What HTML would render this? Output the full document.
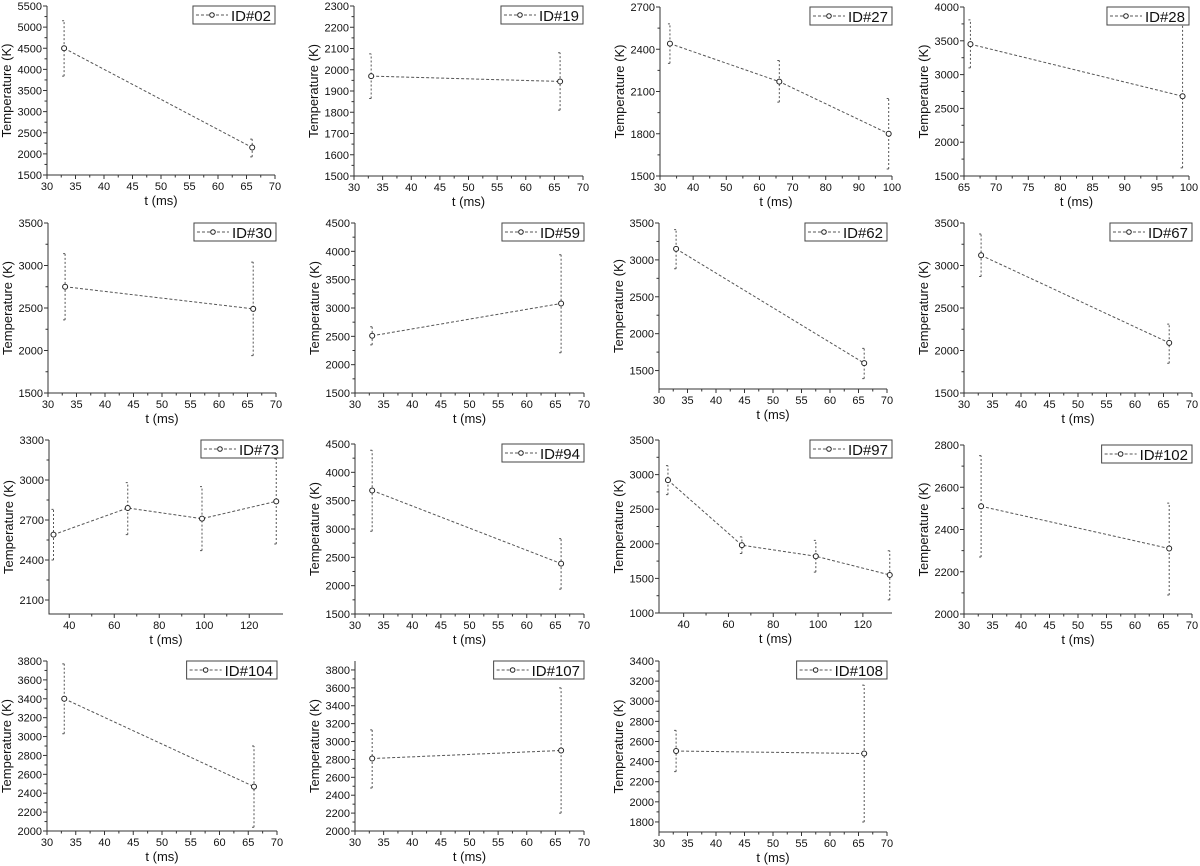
<!DOCTYPE html>
<html><head><meta charset="utf-8">
<style>
html,body{margin:0;padding:0;background:#fff;}
svg{display:block;font-family:"Liberation Sans",Arial,sans-serif;}
</style></head>
<body>
<svg id="fig" width="1200" height="866" viewBox="0 0 1200 866" xmlns="http://www.w3.org/2000/svg"></svg>
<script>
// ---- data ----
const ids = ["ID#02","ID#19","ID#27","ID#28","ID#30","ID#59","ID#62","ID#67","ID#73","ID#94","ID#97","ID#102","ID#104","ID#107","ID#108"];
const tValues = [[33,66],[33,66],[33,66,99],[66,99],[33,66],[33,66],[33,66],[33,66],[33,66,99,132],[33,66],[33,66,99,132],[33,66],[33,66],[33,66],[33,66]];
const tempValues = [[4500,2150],[1970,1945],[2440,2170,1800],[3450,2680],[2750,2490],[2510,3080],[3150,1600],[3120,2090],[2590,2790,2710,2840],[3680,2390],[2920,1980,1820,1550],[2510,2310],[3400,2470],[2810,2900],[2505,2480]];
const errLow = [[3840,1930],[1865,1810],[2300,2025,1550],[3100,1620],[2360,1940],[2350,2210],[2880,1390],[2870,1850],[2400,2590,2470,2520],[2960,1940],[2710,1860,1590,1190],[2270,2090],[3030,2040],[2480,2200],[2300,1800]];
const errHigh = [[5150,2350],[2075,2080],[2580,2320,2050],[3810,3900],[3140,3040],[2670,3940],[3410,1800],[3370,2310],[2780,2980,2950,3160],[4390,2830],[3130,2100,2050,1900],[2750,2525],[3770,2900],[3130,3600],[2710,3160]];
const xRanges = [[30,70],[30,70],[30,100],[65,100],[30,70],[30,70],[30,70],[30,70],[31,135],[30,70],[29,133],[30,70],[30,70],[30,70],[30,70]];
const yRanges = [[1500,5500],[1500,2300],[1500,2700],[1500,4000],[1500,3500],[1500,4500],[1250,3500],[1500,3500],[1995,3300],[1500,4500],[1000,3500],[2000,2800],[2000,3800],[2000,3900],[1700,3400]];
const xTickLists = [[30,35,40,45,50,55,60,65,70],[30,35,40,45,50,55,60,65,70],[30,40,50,60,70,80,90,100],[65,70,75,80,85,90,95,100],[30,35,40,45,50,55,60,65,70],[30,35,40,45,50,55,60,65,70],[30,35,40,45,50,55,60,65,70],[30,35,40,45,50,55,60,65,70],[40,60,80,100,120],[30,35,40,45,50,55,60,65,70],[40,60,80,100,120],[30,35,40,45,50,55,60,65,70],[30,35,40,45,50,55,60,65,70],[30,35,40,45,50,55,60,65,70],[30,35,40,45,50,55,60,65,70]];
const yTickLists = [[1500,2000,2500,3000,3500,4000,4500,5000,5500],[1500,1600,1700,1800,1900,2000,2100,2200,2300],[1500,1800,2100,2400,2700],[1500,2000,2500,3000,3500,4000],[1500,2000,2500,3000,3500],[1500,2000,2500,3000,3500,4000,4500],[1500,2000,2500,3000,3500],[1500,2000,2500,3000,3500],[2100,2400,2700,3000,3300],[1500,2000,2500,3000,3500,4000,4500],[1000,1500,2000,2500,3000,3500],[2000,2200,2400,2600,2800],[2000,2200,2400,2600,2800,3000,3200,3400,3600,3800],[2000,2200,2400,2600,2800,3000,3200,3400,3600,3800],[1800,2000,2200,2400,2600,2800,3000,3200,3400]];
// ---- layout (pixel frames: left, right, top, bottom) ----
const frames = [[47,275,6,175],[354,583,6,176],[660,892,7,176],[964,1189,7,176],
[48,276,223,393],[355,584,223,393],[659,887,223,389],[964,1192,223,393],
[49,283,440,614],[355,584,444,614],[659,892,440,613],[964,1192,445,614],
[47,277,661,831],[355,584,661,831],[659,887,661,832]];

const NS="http://www.w3.org/2000/svg";
const svg=document.getElementById('fig');
function mk(tag,attrs,parent){const e=document.createElementNS(NS,tag);for(const k in attrs)e.setAttribute(k,attrs[k]);(parent||svg).appendChild(e);return e;}

for(let p=0;p<ids.length;p++){
  const [L,R,T,B]=frames[p];
  const [x0,x1]=xRanges[p],[y0,y1]=yRanges[p];
  const sx=v=>L+(v-x0)/(x1-x0)*(R-L);
  const sy=v=>B-(v-y0)/(y1-y0)*(B-T);
  const g=mk('g',{});
  
  
  const ax=mk('path',{d:`M${L},${T}V${B}H${R}`,stroke:'#333',fill:'none','stroke-width':1},g);
  
  
  const xt=xTickLists[p], yt=yTickLists[p];
  xt.forEach((v,i)=>{
    const x=sx(v);
    mk('line',{x1:x,x2:x,y1:B,y2:B+4,stroke:'#333'},g);
    const t=mk('text',{x:x,y:B+15,'font-size':11,'text-anchor':'middle',fill:'#111'},g);
    t.textContent=v;
    
    
    if(i<xt.length-1){const m=sx((v+xt[i+1])/2);mk('line',{x1:m,x2:m,y1:B,y2:B+2.5,stroke:'#333'},g);}
  });
  yt.forEach((v,i)=>{
    const y=sy(v);
    mk('line',{x1:L-4,x2:L,y1:y,y2:y,stroke:'#333'},g);
    const t=mk('text',{x:L-5,y:y+4,'font-size':11,'text-anchor':'end',fill:'#111'},g);
    t.textContent=v;
    
    
    if(i<yt.length-1){const m=sy((v+yt[i+1])/2);mk('line',{x1:L-2.5,x2:L,y1:m,y2:m,stroke:'#333'},g);}
  });
  const xl=mk('text',{x:(L+R)/2,y:B+30,'font-size':13,'text-anchor':'middle',fill:'#111'},g);
  xl.textContent='t (ms)';
  
  
  const yc=(T+B)/2, yx=L-36;
  const yl=mk('text',{x:yx,y:yc,'font-size':13,'text-anchor':'middle',fill:'#111',transform:`rotate(-90 ${yx} ${yc})`},g);
  yl.textContent='Temperature (K)';
  
  
  const tv=tValues[p], yv=tempValues[p];
  const d=tv.map((t,i)=>(i?'L':'M')+sx(t)+','+sy(yv[i])).join('');
  const ln=mk('path',{d:d,stroke:'#555',fill:'none','stroke-width':1,'stroke-dasharray':'3,2'},g);
  
  
  tv.forEach((t,i)=>{
    const x=sx(t), yl_=sy(Math.max(errLow[p][i],y0)), yh=sy(Math.min(errHigh[p][i],y1));
    const eb=mk('path',{d:`M${x},${yl_}V${yh}M${x-2},${yl_}H${x+2}M${x-2},${yh}H${x+2}`,stroke:'#555',fill:'none','stroke-width':1,'stroke-dasharray':'2,2'},g);
    
    
    const c=mk('circle',{cx:x,cy:sy(yv[i]),r:2.5,fill:'#fff',stroke:'#222','stroke-width':1},g);
    
    
  });
  // legend
  const lg=mk('g',{},g);
  
  
  const rect=mk('rect',{y:T,height:18,fill:'#fff',stroke:'#444','stroke-width':1},lg);
  const lt=mk('text',{y:T+15,'font-size':15,fill:'#111'},lg);
  lt.textContent=ids[p];
  
  
  const tw=lt.getComputedTextLength();
  const lw=tw+42, lx=R-lw;
  rect.setAttribute('x',lx);rect.setAttribute('width',lw);
  lt.setAttribute('x',lx+38);
  mk('line',{x1:lx+3,x2:lx+35,y1:T+9,y2:T+9,stroke:'#555','stroke-dasharray':'3,2'},lg);
  mk('circle',{cx:lx+19,cy:T+9,r:2.3,fill:'#fff',stroke:'#222'},lg);
}
</script>
</body></html>
